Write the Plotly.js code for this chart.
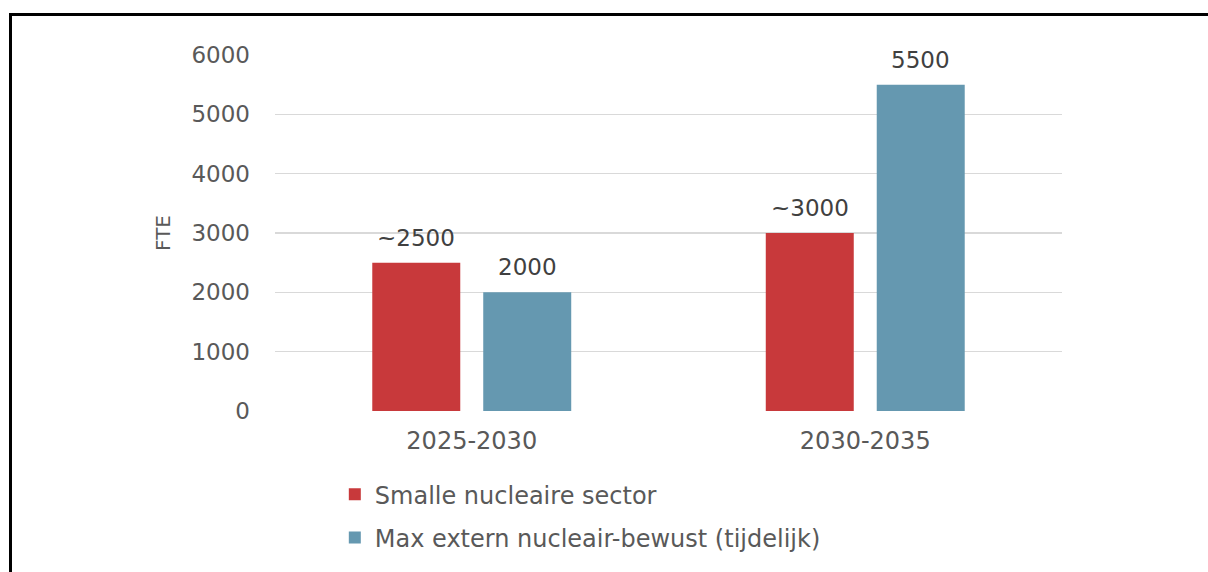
<!DOCTYPE html>
<html>
<head>
<meta charset="utf-8">
<script src="https://cdn.plot.ly/plotly-3.0.1.min.js"></script>
<style>
  html, body { margin: 0; padding: 0; background: #fff; }
  #frame { position: absolute; left: 9px; top: 13px; right: 0; bottom: -10px;
           border-top: 3px solid #000; border-left: 3px solid #000; }
  #chart { position: absolute; left: 0; top: 0; width: 1208px; height: 572px; }
</style>
</head>
<body>
<div id="frame"></div>
<div id="chart"></div>
<script>
const categories = ["2025-2030", "2030-2035"];
const seriesNames = ["Smalle nucleaire sector", "Max extern nucleair-bewust (tijdelijk)"];
const smalleValues = [2500, 3000];
const smalleLabels = ["~2500", "~3000"];
const maxValues = [2000, 5500];
const maxLabels = ["2000", "5500"];
const yTickValues = [0, 1000, 2000, 3000, 4000, 5000, 6000];

const FONT = "DejaVu Sans, sans-serif";
const BARGAP = 0.436;

const traces = [
  {
    type: "bar", name: seriesNames[0], x: categories, y: smalleValues,
    marker: { color: "#c8393b" }, legendgroup: "a", hoverinfo: "skip"
  },
  {
    type: "bar", name: seriesNames[1], x: categories, y: maxValues,
    marker: { color: "#6598b0" }, legendgroup: "b", hoverinfo: "skip"
  }
];

// value labels above each bar, placed from the data through the axes
const slot = (1 - BARGAP) / 2;
const seriesVals = [smalleValues, maxValues];
const seriesLabs = [smalleLabels, maxLabels];
const annotations = [];
seriesVals.forEach((vals, i) => {
  vals.forEach((v, j) => {
    annotations.push({
      xref: "x", yref: "y", x: j + (i - 0.5) * slot, y: v,
      text: seriesLabs[i][j], showarrow: false, yanchor: "bottom", yshift: 10,
      font: { family: FONT, size: 23, color: "#404040" }
    });
  });
});

const layout = {
  width: 1208, height: 572,
  paper_bgcolor: "rgba(0,0,0,0)", plot_bgcolor: "rgba(0,0,0,0)",
  margin: { l: 275, r: 146, t: 55, b: 161, autoexpand: false },
  barmode: "group", bargap: BARGAP, bargroupgap: 0.207,
  font: { family: FONT, color: "#595959" },
  xaxis: {
    showgrid: false, zeroline: false, showline: false, ticks: "",
    tickfont: { family: FONT, size: 24, color: "#595959" },
    ticklabelstandoff: 13, automargin: false
  },
  yaxis: {
    range: [0, 6000], tickvals: yTickValues, showgrid: true,
    gridcolor: "#d9d9d9", gridwidth: 1.5, zeroline: false, showline: false,
    ticks: "", ticklabelstandoff: 24, automargin: false,
    tickfont: { family: FONT, size: 23, color: "#595959" },
    title: { text: "FTE", standoff: 15, font: { family: FONT, size: 20, color: "#595959" } }
  },
  annotations: annotations,
  showlegend: true,
  legend: {
    x: 0.076, xanchor: "left", y: -0.172, yanchor: "top",
    traceorder: "grouped", tracegroupgap: 9,
    font: { family: FONT, size: 24, color: "#595959" },
    bgcolor: "rgba(0,0,0,0)"
  }
};

Plotly.newPlot("chart", traces, layout, { displayModeBar: false, staticPlot: true });
</script>
</body>
</html>
